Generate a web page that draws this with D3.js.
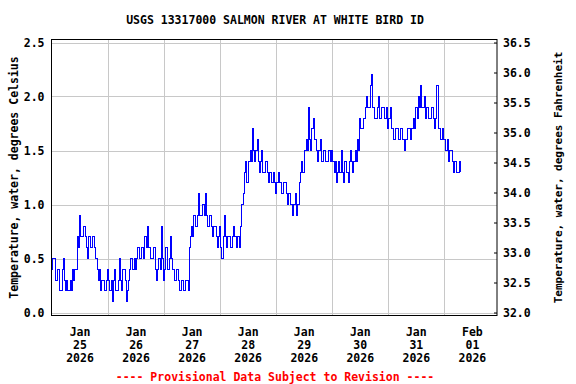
<!DOCTYPE html>
<html>
<head>
<meta charset="utf-8">
<script src="https://cdn.jsdelivr.net/npm/d3@7"></script>
<style>
  body { margin: 0; background: #fff; }
</style>
</head>
<body>
<div id="chart"></div>
<script>

const titleText = "USGS 13317000 SALMON RIVER AT WHITE BIRD ID";
const leftLabel = "Temperature, water, degrees Celsius";
const rightLabel = "Temperature, water, degrees Fahrenheit";
const footerText = "---- Provisional Data Subject to Revision ----";

// half-hourly water temperature, tenths of a degree C, starting Jan 25 00:00
const jan25 = [4,5, 5,3, 3,4, 4,2, 2,4, 5,3, 2,3, 2,2, 3,2, 4,3, 4,4, 7,6,
               9,7, 7,8, 8,7, 6,5, 7,6, 6,7, 7,6, 5,4, 3,4, 2,3, 3,2, 2,3];
const jan26 = [4,3, 2,3, 1,3, 4,2, 2,3, 5,3, 2,4, 4,3, 1,2, 3,4, 5,4, 4,5,
               4,5, 6,5, 5,6, 6,5, 7,6, 8,6, 6,5, 5,6, 6,4, 3,4, 5,4, 8,5];
const jan27 = [3,4, 6,4, 4,5, 7,5, 4,3, 3,4, 4,3, 2,3, 3,2, 2,3, 3,2, 6,7,
               8,7, 9,8, 8,9, 11,9, 9,10, 10,9, 11,9, 8,9, 9,8, 7,8, 8,7, 6,7];
const jan28 = [8,6, 5,7, 9,7, 6,7, 7,6, 6,7, 8,7, 6,7, 7,6, 8,10, 11,13, 14,12,
               12,14, 15,14, 17,15, 14,15, 16,14, 13,14, 15,13, 13,14, 14,13, 12,13, 12,12, 13,12];
const jan29 = [11,12, 13,12, 12,11, 11,12, 12,11, 10,11, 11,10, 9,10, 10,11, 9,10, 12,13, 14,13,
               13,15, 16,15, 19,16, 15,17, 18,16, 16,15, 14,15, 16,14, 14,15, 15,14, 14,15, 15,14];
const jan30 = [15,14, 13,14, 12,13, 14,13, 15,13, 12,14, 14,13, 12,14, 15,14, 13,14, 15,14, 16,15,
               18,17, 17,18, 18,19, 20,19, 19,21, 22,19, 19,18, 18,19, 20,18, 18,19, 19,18, 18,19];
const jan31 = [17,18, 19,17, 17,16, 16,17, 17,16, 16,17, 17,16, 15,16, 16,17, 17,16, 17,17, 18,17,
               19,18, 20,19, 21,19, 19,20, 18,19, 19,18, 18,19, 19,18, 17,18, 21,17, 17,16, 16,17];
const feb01 = [16,15, 15,16, 14,15, 15,14, 13,14, 14,13, 13,14, 13];

const celsiusTicks = [0.0, 0.5, 1.0, 1.5, 2.0, 2.5];
const fahrenheitTicks = [32.0, 32.5, 33.0, 33.5, 34.0, 34.5, 35.0, 35.5, 36.0, 36.5];
const dayStarts = ["2026-01-26", "2026-01-27", "2026-01-28", "2026-01-29", "2026-01-30", "2026-01-31", "2026-02-01"];
const dayLabels = ["2026-01-25", "2026-01-26", "2026-01-27", "2026-01-28", "2026-01-29", "2026-01-30", "2026-01-31", "2026-02-01"];

const width = 576, height = 384;
const margin = {top: 39.5, right: 79, bottom: 68.5, left: 51.5};

const startTime = new Date(2026, 0, 25, 0, 0);
const endTime = new Date(2026, 1, 1, 22, 45);
const parseDay = d3.timeParse("%Y-%m-%d");

// build the series from the daily arrays
const readings = [].concat(jan25, jan26, jan27, jan28, jan29, jan30, jan31, feb01);
const data = readings.map((v, i) => ({
  time: d3.timeMinute.offset(startTime, i * 30),
  temp: v / 10
}));

const font = "'DejaVu Sans Mono', monospace";

const svg = d3.select("#chart")
  .append("svg")
  .attr("width", width)
  .attr("height", height)
  .style("background-color", "white");

const x = d3.scaleTime()
  .domain([startTime, endTime])
  .range([margin.left, width - margin.right]);

const y = d3.scaleLinear()
  .domain([0, 2.5])
  .range([312.5, 42.5]);

const yF = d3.scaleLinear()
  .domain([32, 36.5])
  .range([312.5, 42.5]);

const plotTop = margin.top, plotBottom = height - margin.bottom;

// grid lines
svg.append("g")
  .selectAll("line.hgrid")
  .data(celsiusTicks)
  .enter().append("line")
    .attr("x1", margin.left)
    .attr("x2", width - margin.right)
    .attr("y1", d => Math.round(y(d)) + 0.5)
    .attr("y2", d => Math.round(y(d)) + 0.5)
    .attr("stroke", "#c8c8c8")
    .attr("stroke-width", 1);

svg.append("g")
  .selectAll("line.vgrid")
  .data(dayStarts.map(parseDay))
  .enter().append("line")
    .attr("x1", d => Math.round(x(d)) + 0.5)
    .attr("x2", d => Math.round(x(d)) + 0.5)
    .attr("y1", plotTop)
    .attr("y2", plotBottom)
    .attr("stroke", "#c8c8c8")
    .attr("stroke-width", 1);

// the temperature trace
const line = d3.line()
  .x(d => x(d.time))
  .y(d => y(d.temp))
  .curve(d3.curveStepAfter);

svg.append("path")
  .datum(data)
  .attr("d", line)
  .attr("fill", "none")
  .attr("stroke", "#0000ff")
  .attr("stroke-width", 1)
  .attr("shape-rendering", "crispEdges");

// frame around the plot
svg.append("rect")
  .attr("x", margin.left)
  .attr("y", plotTop)
  .attr("width", width - margin.right - margin.left)
  .attr("height", plotBottom - plotTop)
  .attr("fill", "none")
  .attr("stroke", "black")
  .attr("stroke-width", 1);

// left axis, celsius
const leftAxis = svg.append("g")
  .attr("transform", `translate(${margin.left},0)`)
  .call(d3.axisLeft(y).tickValues(celsiusTicks).tickFormat(d3.format(".1f")).tickSize(0).tickPadding(7));

// right axis, fahrenheit
const rightAxis = svg.append("g")
  .attr("transform", `translate(${width - margin.right},0)`)
  .call(d3.axisRight(yF).tickValues(fahrenheitTicks).tickFormat(d3.format(".1f")).tickSize(-3).tickPadding(6));

// bottom axis, labels centred on each day
const bottomAxis = svg.append("g")
  .attr("transform", `translate(0,${plotBottom})`)
  .call(d3.axisBottom(x)
    .tickValues(dayLabels.map(s => d3.timeHour.offset(parseDay(s), 12)))
    .tickSize(0)
    .tickFormat(""));

bottomAxis.selectAll(".tick text")
  .each(function(d) {
    const lines = [d3.timeFormat("%b")(d), d3.timeFormat("%d")(d), d3.timeFormat("%Y")(d)];
    const t = d3.select(this).attr("dy", null).attr("y", 0);
    lines.forEach((s, i) => {
      t.append("tspan").attr("x", 0).attr("y", 20 + i * 13).text(s);
    });
  });

[leftAxis, rightAxis, bottomAxis].forEach(g => {
  g.select(".domain").remove();
  g.selectAll("text")
    .style("font-family", font)
    .style("font-size", "11.5px")
    .style("font-weight", "bold")
    .attr("fill", "black");
  g.selectAll(".tick line").attr("stroke", "black");
});

// title
svg.append("text")
  .attr("x", 275)
  .attr("y", 24)
  .attr("text-anchor", "middle")
  .style("font-family", font)
  .style("font-size", "11.5px")
  .style("font-weight", "bold")
  .text(titleText);

// axis titles
svg.append("text")
  .attr("transform", `translate(18,${(plotTop + plotBottom) / 2}) rotate(-90)`)
  .attr("text-anchor", "middle")
  .style("font-family", font)
  .style("font-size", "11.5px")
  .style("font-weight", "bold")
  .text(leftLabel);

svg.append("text")
  .attr("transform", `translate(562,${(plotTop + plotBottom) / 2}) rotate(-90)`)
  .attr("text-anchor", "middle")
  .style("font-family", font)
  .style("font-size", "11px")
  .style("font-weight", "bold")
  .text(rightLabel);

// provisional data note
svg.append("text")
  .attr("x", 275)
  .attr("y", 381)
  .attr("text-anchor", "middle")
  .attr("fill", "red")
  .style("font-family", font)
  .style("font-size", "11.5px")
  .style("font-weight", "bold")
  .text(footerText);

</script>
</body>
</html>
